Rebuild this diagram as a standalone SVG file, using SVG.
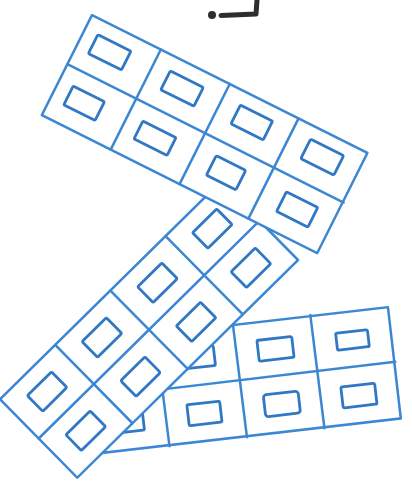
<svg xmlns="http://www.w3.org/2000/svg" width="412" height="492" viewBox="0 0 412 492">
<style>
.frame{fill:#ffffff;stroke:#3c87d3;stroke-width:2.5;stroke-linejoin:round}
.grid{stroke:#3c87d3;stroke-width:2.5;stroke-linecap:round;fill:none}
.box{fill:none;stroke:#3077c4;stroke-width:2.8;stroke-linejoin:round}
.ink{stroke:#2e2e2e;fill:none;stroke-width:5;stroke-linecap:round;stroke-linejoin:round}
</style>
<rect width="412" height="492" fill="#ffffff"/>
<g id="mark">
<circle cx="212" cy="15" r="4" fill="#2e2e2e"/>
<polyline class="ink" points="221,15.5 256,14 257,0"/>
</g>
<g id="strip-bottom" transform="translate(78,343) rotate(-6.6)">
<rect class="frame" x="0" y="0" width="312" height="112"/>
<g class="grid">
<line x1="0" y1="56" x2="313" y2="55"/>
<line x1="78" y1="0" x2="79" y2="113"/>
<line x1="156" y1="0" x2="157" y2="113"/>
<line x1="234" y1="-1" x2="235" y2="113"/>
</g>
<g class="box">
<rect x="23" y="18" width="33" height="20" rx="1.5"/>
<rect x="101" y="18" width="33" height="20" rx="1.5"/>
<rect x="178" y="18" width="35" height="21" rx="1.5"/>
<rect x="257" y="20" width="32" height="17" rx="1.5"/>
<rect x="23" y="74" width="33" height="20" rx="1.5"/>
<rect x="101" y="74" width="33" height="21" rx="1.5"/>
<rect x="178" y="73" width="35" height="22" rx="3"/>
<rect x="256" y="74" width="34" height="21" rx="1.5"/>
</g>
</g>
<g id="strip-middle" transform="translate(298,260) rotate(135.4)">
<rect class="frame" x="0" y="0" width="310" height="110"/>
<g class="grid">
<line x1="0" y1="55" x2="310" y2="55"/>
<line x1="77.5" y1="0" x2="77.5" y2="110"/>
<line x1="155" y1="0" x2="155" y2="110"/>
<line x1="232.5" y1="0" x2="232.5" y2="110"/>
</g>
<g class="box">
<rect x="22" y="16.5" width="34" height="22" rx="1.5"/>
<rect x="99" y="16.5" width="34" height="22" rx="1.5"/>
<rect x="177" y="16.5" width="34" height="22" rx="2"/>
<rect x="254" y="16.5" width="34" height="22" rx="1.5"/>
<rect x="22" y="71.5" width="34" height="22" rx="1.5"/>
<rect x="99" y="71.5" width="34" height="22" rx="1.5"/>
<rect x="177" y="71.5" width="34" height="22" rx="1.5"/>
<rect x="254" y="71.5" width="34" height="22" rx="2"/>
</g>
</g>
<g id="strip-top" transform="translate(92,15) rotate(26.6)">
<rect class="frame" x="0" y="0" width="308" height="112"/>
<g class="grid">
<line x1="0" y1="55" x2="309" y2="55"/>
<line x1="77" y1="0" x2="77" y2="112"/>
<line x1="154" y1="0" x2="154" y2="112"/>
<line x1="231" y1="0" x2="231" y2="112"/>
</g>
<g class="box">
<rect x="14" y="15" width="37" height="21" rx="1.5"/>
<rect x="95" y="15" width="37" height="21" rx="1.5"/>
<rect x="173" y="14" width="36" height="21" rx="1.5"/>
<rect x="251" y="13" width="37" height="22" rx="2"/>
<rect x="15" y="72" width="35" height="21" rx="1.5"/>
<rect x="93" y="72" width="37" height="20" rx="1.5"/>
<rect x="174" y="70" width="33" height="22" rx="2"/>
<rect x="253" y="71" width="35" height="22" rx="1.5"/>
</g>
</g>
</svg>
